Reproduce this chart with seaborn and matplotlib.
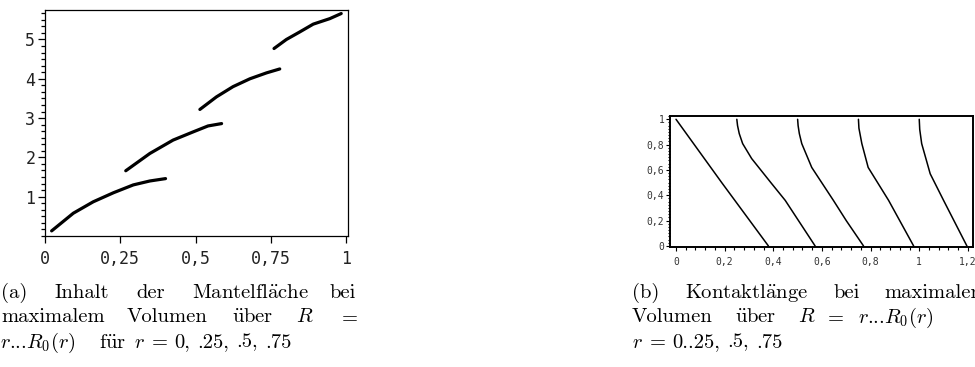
import numpy as np
import pandas as pd
import seaborn as sns
import matplotlib
matplotlib.use("Agg")
import matplotlib.pyplot as plt
from matplotlib.ticker import MultipleLocator, FixedLocator, FuncFormatter

# ---------------- data ----------------
# (a) lateral surface area over R for r = 0, .25, .5, .75
a_seg1_x = [0.022, 0.094, 0.160, 0.227, 0.293, 0.348, 0.400]
a_seg1_y = [0.13, 0.58, 0.87, 1.10, 1.30, 1.40, 1.46]
a_seg2_x = [0.268, 0.348, 0.425, 0.492, 0.541, 0.586]
a_seg2_y = [1.66, 2.10, 2.44, 2.65, 2.80, 2.86]
a_seg3_x = [0.514, 0.569, 0.624, 0.680, 0.735, 0.779]
a_seg3_y = [3.22, 3.54, 3.80, 4.00, 4.15, 4.25]
a_seg4_x = [0.760, 0.801, 0.845, 0.890, 0.945, 0.983]
a_seg4_y = [4.77, 5.00, 5.19, 5.39, 5.53, 5.66]

# (b) contact length over R
b_c1_x = [0.000, 0.188, 0.380]
b_c1_y = [1.00, 0.50, 0.00]
b_c2_x = [0.250, 0.253, 0.260, 0.274, 0.311, 0.390, 0.449, 0.572]
b_c2_y = [1.00, 0.95, 0.887, 0.808, 0.69, 0.50, 0.36, 0.00]
b_c3_x = [0.500, 0.502, 0.507, 0.517, 0.558, 0.647, 0.700, 0.771]
b_c3_y = [1.00, 0.95, 0.887, 0.808, 0.62, 0.36, 0.20, 0.00]
b_c4_x = [0.750, 0.752, 0.764, 0.790, 0.874, 0.977]
b_c4_y = [1.00, 0.93, 0.808, 0.62, 0.36, 0.00]
b_c5_x = [1.000, 1.002, 1.010, 1.045, 1.100, 1.196]
b_c5_y = [1.00, 0.92, 0.808, 0.57, 0.36, 0.00]

a_xticks = [0, 0.25, 0.5, 0.75, 1]
a_xticklabels = ["0", "0,25", "0,5", "0,75", "1"]
a_yticks = [1, 2, 3, 4, 5]
b_xticks = [0, 0.2, 0.4, 0.6, 0.8, 1.0, 1.2]
b_yticks = [0, 0.2, 0.4, 0.6, 0.8, 1.0]

# ---------------- figure ----------------
sns.set_theme(style="white")
plt.rcParams["mathtext.fontset"] = "cm"
plt.rcParams["font.family"] = ["DejaVu Sans"]

W, H = 975, 367
fig = plt.figure(figsize=(W / 100, H / 100), dpi=100)

def px_axes(l, t, r, b):
    return fig.add_axes([l / W, 1 - b / H, (r - l) / W, (b - t) / H])

def comma_fmt(v, pos):
    return ("%g" % round(v, 3)).replace(".", ",")

# ---- left panel ----
axA = px_axes(45, 10, 348, 236)
for xs, ys in [(a_seg1_x, a_seg1_y), (a_seg2_x, a_seg2_y),
               (a_seg3_x, a_seg3_y), (a_seg4_x, a_seg4_y)]:
    sns.lineplot(x=xs, y=ys, ax=axA, color="black", linewidth=2.3,
                 sort=False, estimator=None)
axA.set_xlim(0, 1.0055)
axA.set_ylim(0, 5.75)
axA.xaxis.set_major_locator(FixedLocator(a_xticks))
axA.set_xticklabels(a_xticklabels)
axA.yaxis.set_major_locator(FixedLocator(a_yticks))
axA.yaxis.set_minor_locator(MultipleLocator(1 / 6))
axA.tick_params(axis="both", which="major", direction="out", length=5,
                width=0.9, color="black", labelsize=12, pad=2,
                bottom=True, left=True)
axA.tick_params(axis="x", which="major", length=5, pad=5)
axA.tick_params(axis="y", which="minor", direction="out", length=3,
                width=0.9, color="black", left=True)
for sp in axA.spines.values():
    sp.set_color("black")
    sp.set_linewidth(0.9)
for lab in axA.get_xticklabels() + axA.get_yticklabels():
    lab.set_fontfamily("DejaVu Sans Mono")
    lab.set_color("#222222")
axA.set_xlabel("")
axA.set_ylabel("")

# ---- right panel ----
axB = px_axes(670, 116, 973, 247)
for xs, ys in [(b_c1_x, b_c1_y), (b_c2_x, b_c2_y), (b_c3_x, b_c3_y),
               (b_c4_x, b_c4_y), (b_c5_x, b_c5_y)]:
    sns.lineplot(x=xs, y=ys, ax=axB, color="black", linewidth=1.1,
                 sort=False, estimator=None)
axB.set_xlim(-0.0247, 1.221)
axB.set_ylim(-0.008, 1.026)
axB.xaxis.set_major_locator(FixedLocator(b_xticks))
axB.xaxis.set_minor_locator(MultipleLocator(0.04))
axB.yaxis.set_major_locator(FixedLocator(b_yticks))
axB.yaxis.set_minor_locator(MultipleLocator(0.025))
axB.xaxis.set_major_formatter(FuncFormatter(comma_fmt))
axB.yaxis.set_major_formatter(FuncFormatter(comma_fmt))
axB.tick_params(axis="both", which="major", direction="out", length=3,
                width=0.8, color="black", labelsize=7, pad=1,
                bottom=True, left=True)
axB.tick_params(axis="both", which="minor", direction="out", length=1.8,
                width=0.8, color="black", bottom=True, left=True)
axB.tick_params(axis="x", which="major", pad=4)
for sp in axB.spines.values():
    sp.set_color("black")
    sp.set_linewidth(1.4)
for lab in axB.get_xticklabels() + axB.get_yticklabels():
    lab.set_fontfamily("DejaVu Sans Mono")
    lab.set_color("#333333")
axB.set_xlabel("")
axB.set_ylabel("")

# ---------------- captions (justified word by word) ----------------
CFS = 14.8
CFAM = ["cmr10", "DejaVu Serif"]

def word(x, y, s):
    fig.text(x / W, 1 - y / H, s, fontsize=CFS, family=CFAM,
             ha="left", va="baseline", color="black")

L1, L2, L3 = 297.5, 322.5, 347.5
# (a)
word(1, L1, "(a)")
word(54, L1, "Inhalt")
word(136, L1, "der")
word(192, L1, r"$\mathrm{Mantelfl\ddot{a}che}$")
word(329, L1, "bei")
word(1, L2, "maximalem")
word(127, L2, "Volumen")
word(232, L2, r"$\mathrm{\ddot{u}ber}$")
word(296, L2, r"$R$")
word(338, L2, r"$=$")
word(0.5, L3, r"$r$...$R_0(r)$")
word(99, L3, r"$\mathrm{f\ddot{u}r}$")
word(134, L3, r"$r\;=\;$")
word(174, L3, "0,")
word(197, L3, ".25,")
word(236, L3, ".5,")
word(265, L3, ".75")
# (b)
word(632, L1, "(b)")
word(685, L1, r"$\mathrm{Kontaktl\ddot{a}nge}$")
word(833, L1, "bei")
word(884, L1, "maximalem")
word(632, L2, "Volumen")
word(735, L2, r"$\mathrm{\ddot{u}ber}$")
word(798, L2, r"$R$")
word(824, L2, r"$=$")
word(858, L2, r"$r$...$R_0(r)$")
word(632, L3, r"$r\;=\;$")
word(672, L3, "0..25,")
word(727, L3, ".5,")
word(756, L3, ".75")

fig.savefig("out.png", dpi=100)
